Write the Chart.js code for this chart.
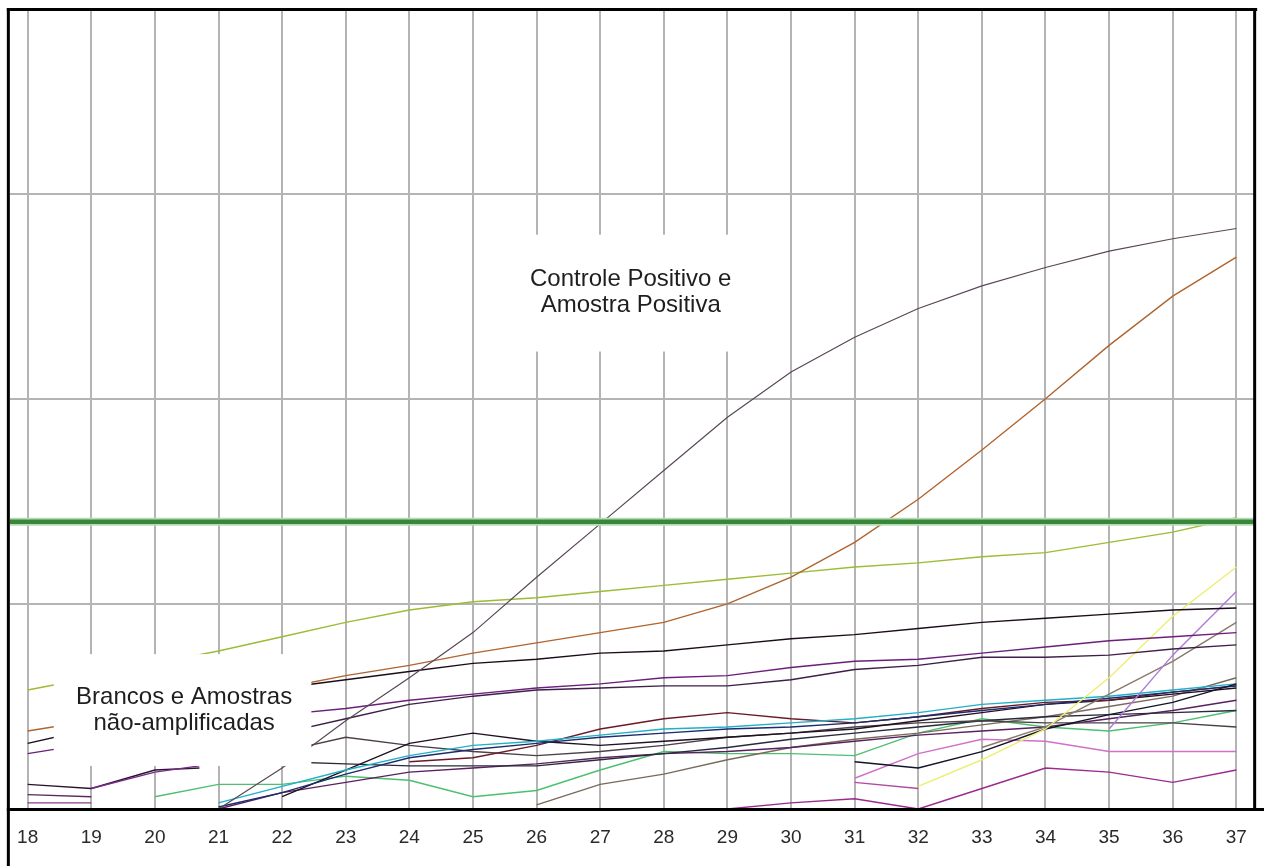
<!DOCTYPE html>
<html>
<head>
<meta charset="utf-8">
<script src="https://cdn.jsdelivr.net/npm/chart.js@4.4.1/dist/chart.umd.min.js"></script>
<style>
  html, body { margin: 0; padding: 0; background: #fff; }
  #c { display: block; }
</style>
</head>
<body>
<canvas id="c" width="1264" height="866"></canvas>
<script>
// Ciclos de amplificação (eixo X) e limiar de detecção
const ciclos = [18, 19, 20, 21, 22, 23, 24, 25, 26, 27, 28, 29, 30, 31, 32, 33, 34, 35, 36, 37];
const linhasFluor = [1, 2, 3];
const limiar = 1.40;

// Curvas positivas: [ciclo, fluorescência]
const controlePositivo = [[21,0.00],[22,0.20],[23,0.43],[24,0.64],[25,0.86],[26,1.13],[27,1.39],[28,1.65],[29,1.91],[30,2.13],[31,2.30],[32,2.44],[33,2.55],[34,2.64],[35,2.72],[36,2.78],[37,2.83]];
const amostraPositiva = [[18,0.38],[19,0.43],[20,0.48],[21,0.54],[22,0.59],[23,0.65],[24,0.70],[25,0.76],[26,0.81],[27,0.86],[28,0.91],[29,1.00],[30,1.13],[31,1.30],[32,1.51],[33,1.75],[34,2.00],[35,2.26],[36,2.50],[37,2.69]];

// Brancos e amostras não amplificadas
const oliva = [[18,0.58],[19,0.64],[20,0.71],[21,0.77],[22,0.84],[23,0.91],[24,0.97],[25,1.01],[26,1.03],[27,1.06],[28,1.09],[29,1.12],[30,1.15],[31,1.18],[32,1.20],[33,1.23],[34,1.25],[35,1.30],[36,1.35],[37,1.42]];
const preto1 = [[18,0.32],[19,0.39],[20,0.47],[21,0.54],[22,0.59],[23,0.63],[24,0.67],[25,0.71],[26,0.73],[27,0.76],[28,0.77],[29,0.80],[30,0.83],[31,0.85],[32,0.88],[33,0.91],[34,0.93],[35,0.95],[36,0.97],[37,0.98]];
const roxoA = [[18,0.27],[19,0.32],[20,0.38],[21,0.42],[22,0.46],[23,0.49],[24,0.53],[25,0.56],[26,0.59],[27,0.61],[28,0.64],[29,0.65],[30,0.69],[31,0.72],[32,0.73],[33,0.76],[34,0.79],[35,0.82],[36,0.84],[37,0.86]];
const roxoB = [[22,0.37],[23,0.44],[24,0.51],[25,0.55],[26,0.58],[27,0.59],[28,0.60],[29,0.60],[30,0.63],[31,0.68],[32,0.70],[33,0.74],[34,0.74],[35,0.75],[36,0.78],[37,0.80]];
const verde = [[20,0.06],[21,0.12],[22,0.12],[23,0.16],[24,0.14],[25,0.06],[26,0.09],[27,0.19],[28,0.28],[29,0.27],[30,0.27],[31,0.26],[32,0.37],[33,0.44],[34,0.40],[35,0.38],[36,0.42],[37,0.48]];
const ciano = [[21,0.03],[22,0.11],[23,0.19],[24,0.26],[25,0.31],[26,0.33],[27,0.36],[28,0.39],[29,0.40],[30,0.42],[31,0.44],[32,0.47],[33,0.51],[34,0.53],[35,0.55],[36,0.58],[37,0.61]];
const azul = [[21,0.01],[22,0.08],[23,0.17],[24,0.25],[25,0.29],[26,0.32],[27,0.35],[28,0.37],[29,0.39],[30,0.40],[31,0.42],[32,0.45],[33,0.48],[34,0.51],[35,0.54],[36,0.57],[37,0.60]];
const preto2 = [[22,0.06],[23,0.19],[24,0.32],[25,0.37],[26,0.33],[27,0.31],[28,0.33],[29,0.35],[30,0.37],[31,0.39],[32,0.43],[33,0.47],[34,0.51],[35,0.53],[36,0.56],[37,0.59]];
const bordo = [[24,0.23],[25,0.25],[26,0.31],[27,0.39],[28,0.44],[29,0.47],[30,0.44],[31,0.42],[32,0.45],[33,0.49],[34,0.52],[35,0.53],[36,0.57],[37,0.60]];
const cinza = [[22,0.28],[23,0.35],[24,0.31],[25,0.28],[26,0.26],[27,0.28],[28,0.31],[29,0.35],[30,0.37],[31,0.40],[32,0.42],[33,0.43],[34,0.42],[35,0.42],[36,0.42],[37,0.40]];
const escuro = [[22,0.23],[23,0.22],[24,0.21],[25,0.21],[26,0.21],[27,0.24],[28,0.27],[29,0.30],[30,0.34],[31,0.37],[32,0.40],[33,0.43],[34,0.45],[35,0.46],[36,0.47],[37,0.48]];
const roxo3 = [[21,0.00],[22,0.08],[23,0.13],[24,0.18],[25,0.20],[26,0.22],[27,0.25],[28,0.27],[29,0.28],[30,0.30],[31,0.33],[32,0.36],[33,0.38],[34,0.40],[35,0.44],[36,0.48],[37,0.53]];
const marrom = [[26,0.02],[27,0.12],[28,0.17],[29,0.24],[30,0.30],[31,0.34],[32,0.37],[33,0.41],[34,0.45],[35,0.50],[36,0.55],[37,0.64]];
const magenta = [[29,0.00],[30,0.03],[31,0.05],[32,0.00],[33,0.10],[34,0.20],[35,0.18],[36,0.13],[37,0.19]];
const rosa = [[31,0.15],[32,0.27],[33,0.34],[34,0.33],[35,0.28],[36,0.28],[37,0.28]];
const rosa2 = [[31,0.13],[32,0.10]];
const preto3 = [[31,0.23],[32,0.20],[33,0.28],[34,0.39],[35,0.46],[36,0.52],[37,0.61]];
const cinzaMarrom = [[33,0.30],[34,0.40],[35,0.56],[36,0.72],[37,0.91]];
const amarelo = [[32,0.11],[33,0.24],[34,0.39],[35,0.64],[36,0.94],[37,1.18]];
const lilas = [[35,0.39],[36,0.75],[37,1.06]];
const fundo1 = [[18,0.12],[19,0.10],[20,0.19],[20.7,0.20]];
const fundo2 = [[18,0.07],[19,0.06]];
const fundo3 = [[18,0.03],[19,0.03]];
const fundo4 = [[19,0.10],[20,0.18],[20.7,0.21]];

const rotulos = {
  positivos: ['Controle Positivo e', 'Amostra Positiva'],
  negativos: ['Brancos e Amostras', 'não-amplificadas']
};

const pts = arr => arr.map(([x, y]) => ({ x, y }));
const serie = (dados, cor, largura) => ({
  data: pts(dados), borderColor: cor, borderWidth: largura || 1.4,
  pointRadius: 0, tension: 0, fill: false
});

const xMin = 17.72, xMax = 37.28;

// Listadas de baixo para cima; o Chart.js desenha o primeiro conjunto por cima
const camadas = [
  serie(fundo3, '#8a3a8a'), serie(fundo2, '#5a2a5a'), serie(fundo1, '#2a1530'), serie(fundo4, '#7a2a8a'),
  serie(magenta, '#9a2a90'), serie(rosa, '#d070c8'), serie(rosa2, '#b04aa0'),
  serie(verde, '#4cc070'), serie(marrom, '#7a6a5a'), serie(roxo3, '#5a2060'),
  serie(escuro, '#2a2a3a'), serie(cinza, '#4a4048'), serie(preto2, '#201020'),
  serie(bordo, '#6a1a2a'), serie(azul, '#1c2c6c'), serie(ciano, '#20b0c8'),
  serie(preto3, '#141428'), serie(cinzaMarrom, '#8a7a6a'), serie(amarelo, '#eeee70'), serie(lilas, '#b07ad8'),
  serie(roxoB, '#3e1f48'), serie(roxoA, '#6b1f7b'), serie(preto1, '#1a0d1a'),
  serie(oliva, '#9cbc34'), serie(amostraPositiva, '#b0642e'), serie(controlePositivo, '#5a4858', 1.2),
  serie([[xMin, limiar], [xMax, limiar]], '#b3dcb3', 8),
  serie([[xMin, limiar], [xMax, limiar]], '#3a863a', 4.5)
];
const datasets = camadas.reverse();

// Caixas brancas com as legendas de texto sobre o gráfico
const caixasTexto = {
  id: 'caixasTexto',
  afterDatasetsDraw(chart) {
    const { ctx, scales: { x, y } } = chart;
    const caixa = (x0, x1, y0, y1, linhas, cx, base) => {
      const px0 = x.getPixelForValue(x0), px1 = x.getPixelForValue(x1);
      const py0 = y.getPixelForValue(y0), py1 = y.getPixelForValue(y1);
      ctx.save();
      ctx.fillStyle = '#ffffff';
      ctx.fillRect(px0, py0, px1 - px0, py1 - py0);
      ctx.fillStyle = '#1e1e1e';
      ctx.font = '24px "Liberation Sans", Arial, sans-serif';
      ctx.textAlign = 'center';
      ctx.textBaseline = 'alphabetic';
      const pcx = x.getPixelForValue(cx);
      linhas.forEach((t, i) => ctx.fillText(t, pcx, y.getPixelForValue(base) + i * 26));
      ctx.restore();
    };
    caixa(25.6, 29.7, 2.80, 2.23, rotulos.positivos, 27.48, 2.55);
    caixa(18.41, 22.46, 0.755, 0.21, rotulos.negativos, 20.46, 0.51);
  }
};

// Moldura preta em volta da área do gráfico e linha do eixo
const moldura = {
  id: 'moldura',
  beforeDraw(chart) {
    const ctx = chart.ctx;
    ctx.save();
    ctx.fillStyle = '#fff';
    ctx.fillRect(0, 0, chart.width, chart.height);
    ctx.restore();
  },
  afterDraw(chart) {
    const { ctx, chartArea: a } = chart;
    ctx.save();
    ctx.fillStyle = '#000';
    ctx.fillRect(a.left - 3, a.top - 1, 3, chart.height - a.top + 1);
    ctx.fillRect(a.left - 3, a.top - 1, a.right - a.left + 6, 3);
    ctx.fillRect(a.right - 1, a.top - 1, 3, a.bottom - a.top + 1);
    ctx.fillRect(a.left - 3, a.bottom - 1, chart.width - a.left + 3, 3);
    ctx.restore();
  }
};

new Chart(document.getElementById('c'), {
  type: 'line',
  data: { datasets },
  options: {
    responsive: false,
    animation: false,
    events: [],
    layout: { padding: { left: 8, right: 8, top: 9, bottom: 0 } },
    plugins: { legend: { display: false }, tooltip: { enabled: false } },
    scales: {
      x: {
        type: 'linear', min: xMin, max: xMax,
        afterBuildTicks: s => { s.ticks = ciclos.map(v => ({ value: v })); },
        afterFit: s => { s.height = 57; },
        grid: { color: '#b4b4b4', lineWidth: 2, drawTicks: false },
        border: { display: false },
        ticks: { color: '#2a2a2a', padding: 17, font: { family: 'Liberation Sans', size: 19 }, maxRotation: 0, autoSkip: false }
      },
      y: {
        type: 'linear', min: 0, max: 3.9,
        afterBuildTicks: s => { s.ticks = linhasFluor.map(v => ({ value: v })); },
        afterFit: s => { s.width = 0; },
        grid: { color: '#b4b4b4', lineWidth: 2, drawTicks: false },
        border: { display: false },
        ticks: { display: false }
      }
    }
  },
  plugins: [moldura, caixasTexto]
});
</script>
</body>
</html>
